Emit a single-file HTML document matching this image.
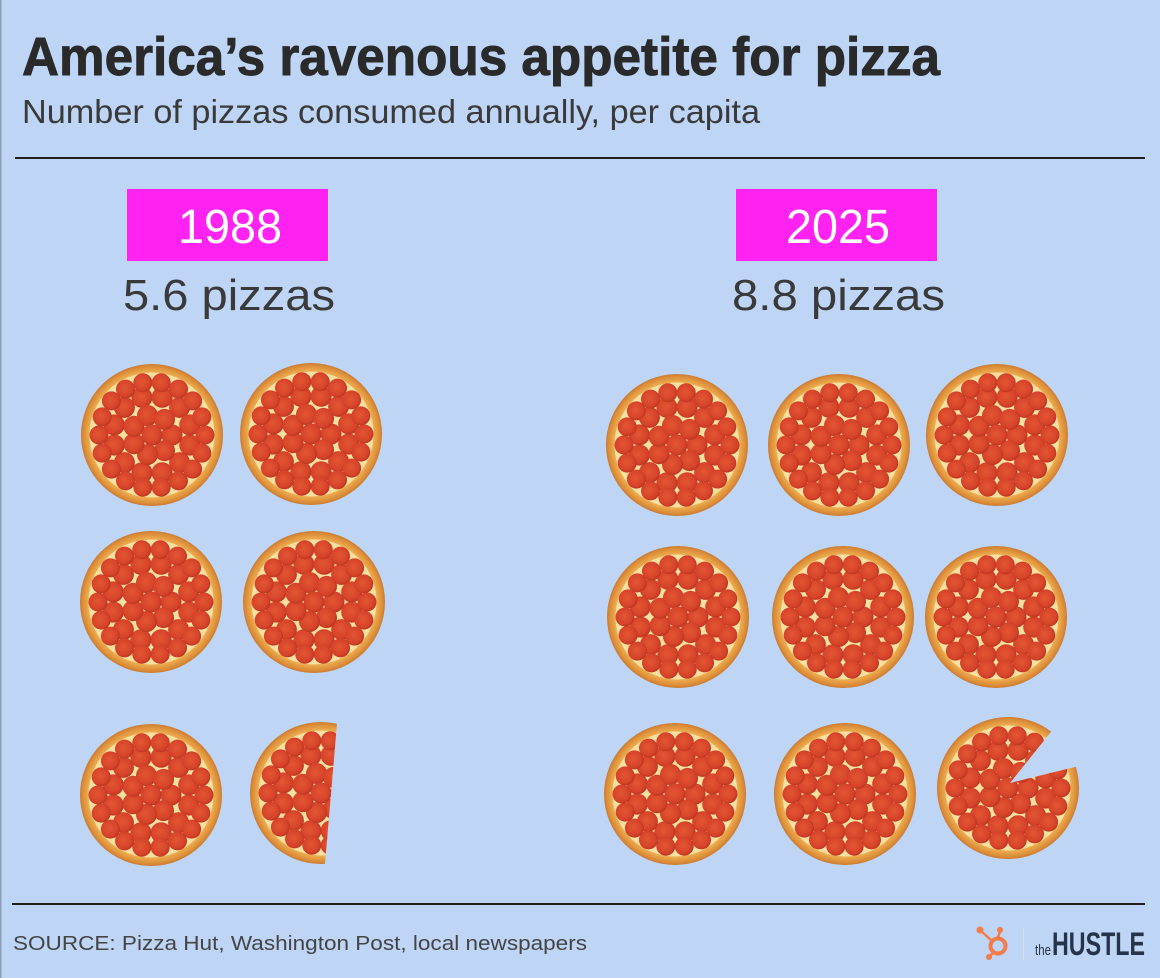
<!DOCTYPE html>
<html><head><meta charset="utf-8"><style>
html,body{margin:0;padding:0;background:#bed5f6;}
svg{display:block;}
</style></head><body>
<svg width="1160" height="978" viewBox="0 0 1160 978" xmlns="http://www.w3.org/2000/svg">
<defs>
  <radialGradient id="crust" cx="0" cy="0" r="71" gradientUnits="userSpaceOnUse">
    <stop offset="0.84" stop-color="#f4c566"/>
    <stop offset="0.90" stop-color="#eaa64a"/>
    <stop offset="0.97" stop-color="#da8a36"/>
    <stop offset="1" stop-color="#c97a34"/>
  </radialGradient>
  <radialGradient id="pep" cx="0.45" cy="0.45" r="0.6">
    <stop offset="0" stop-color="#e35634"/>
    <stop offset="0.7" stop-color="#d6432a"/>
    <stop offset="1" stop-color="#b5321d"/>
  </radialGradient>
  <g id="pizza">
    <circle r="71" fill="url(#crust)"/>
    <circle r="62.5" fill="#f8e0a0"/>
    <g fill="url(#pep)">
      <circle cx="37.7" cy="10.1" r="10.5"/><circle cx="27.6" cy="27.6" r="10.5"/><circle cx="10.1" cy="37.7" r="10.5"/>
      <circle cx="-10.1" cy="37.7" r="10.5"/><circle cx="-27.6" cy="27.6" r="10.5"/><circle cx="-37.7" cy="10.1" r="10.5"/>
      <circle cx="-37.7" cy="-10.1" r="10.5"/><circle cx="-27.6" cy="-27.6" r="10.5"/><circle cx="-10.1" cy="-37.7" r="10.5"/>
      <circle cx="10.1" cy="-37.7" r="10.5"/><circle cx="27.6" cy="-27.6" r="10.5"/><circle cx="37.7" cy="-10.1" r="10.5"/>
      <circle cx="53" cy="0" r="9.5"/><circle cx="49.8" cy="18.1" r="9.5"/><circle cx="40.6" cy="34.1" r="9.5"/>
      <circle cx="26.5" cy="45.9" r="9.5"/><circle cx="9.2" cy="52.2" r="9.5"/><circle cx="-9.2" cy="52.2" r="9.5"/>
      <circle cx="-26.5" cy="45.9" r="9.5"/><circle cx="-40.6" cy="34.1" r="9.5"/><circle cx="-49.8" cy="18.1" r="9.5"/>
      <circle cx="-53" cy="0" r="9.5"/><circle cx="-49.8" cy="-18.1" r="9.5"/><circle cx="-40.6" cy="-34.1" r="9.5"/>
      <circle cx="-26.5" cy="-45.9" r="9.5"/><circle cx="-9.2" cy="-52.2" r="9.5"/><circle cx="9.2" cy="-52.2" r="9.5"/>
      <circle cx="26.5" cy="-45.9" r="9.5"/><circle cx="40.6" cy="-34.1" r="9.5"/><circle cx="49.8" cy="-18.1" r="9.5"/>
      <circle cx="20" cy="0" r="10.5"/><circle cx="12.5" cy="15.6" r="10.5"/><circle cx="-4.5" cy="19.5" r="10.5"/>
      <circle cx="-18" cy="8.7" r="10.5"/><circle cx="-18" cy="-8.7" r="10.5"/><circle cx="-4.5" cy="-19.5" r="10.5"/>
      <circle cx="12.5" cy="-15.6" r="10.5"/>
      <circle cx="0" cy="0" r="10.5"/>
    </g>
  </g>
  <clipPath id="halfclip"><polygon points="240,700 339,700 323.6,880 240,880"/></clipPath>
  <clipPath id="wedgeclip"><polygon points="1010,783 1140,751 1140,900 900,900 900,680 1090,683"/></clipPath>
</defs>

<rect x="0" y="0" width="1160" height="978" fill="#bed5f6"/>
<rect x="0" y="0" width="1.5" height="978" fill="#8c9fb8"/>

<text x="22" y="75" font-family="Liberation Sans, sans-serif" font-weight="bold" font-size="54" fill="#2a2a2a" stroke="#2a2a2a" stroke-width="0.9" textLength="918" lengthAdjust="spacingAndGlyphs">America’s ravenous appetite for pizza</text>
<text x="22" y="123" font-family="Liberation Sans, sans-serif" font-size="33" fill="#3a3a3a" textLength="738" lengthAdjust="spacingAndGlyphs">Number of pizzas consumed annually, per capita</text>
<rect x="15" y="157" width="1130" height="2" fill="#1e1e1e"/>

<rect x="127" y="189" width="201" height="72" fill="#ff22f0"/>
<text x="178" y="243" font-family="Liberation Sans, sans-serif" font-size="48" fill="#ffffff" textLength="104" lengthAdjust="spacingAndGlyphs">1988</text>
<rect x="736" y="189" width="201" height="72" fill="#ff22f0"/>
<text x="786" y="243" font-family="Liberation Sans, sans-serif" font-size="48" fill="#ffffff" textLength="104" lengthAdjust="spacingAndGlyphs">2025</text>

<text x="123" y="310" font-family="Liberation Sans, sans-serif" font-size="44" fill="#3a3a3a" textLength="212" lengthAdjust="spacingAndGlyphs">5.6 pizzas</text>
<text x="732" y="310" font-family="Liberation Sans, sans-serif" font-size="44" fill="#3a3a3a" textLength="213" lengthAdjust="spacingAndGlyphs">8.8 pizzas</text>

<!-- 1988 pizzas -->
<use href="#pizza" x="152" y="435"/>
<use href="#pizza" x="311" y="434"/>
<use href="#pizza" x="151" y="602"/>
<use href="#pizza" x="314" y="602"/>
<use href="#pizza" x="151" y="795"/>
<g clip-path="url(#halfclip)"><use href="#pizza" x="321" y="793"/></g>

<!-- 2025 pizzas -->
<use href="#pizza" x="677" y="445"/>
<use href="#pizza" x="839" y="445"/>
<use href="#pizza" x="997" y="435"/>
<use href="#pizza" x="678" y="617"/>
<use href="#pizza" x="843" y="617"/>
<use href="#pizza" x="996" y="617"/>
<use href="#pizza" x="675" y="794"/>
<use href="#pizza" x="845" y="794"/>
<g clip-path="url(#wedgeclip)"><use href="#pizza" x="1008" y="788"/></g>

<rect x="12" y="903" width="1133" height="2" fill="#1e1e1e"/>
<text x="13" y="950" font-family="Liberation Sans, sans-serif" font-size="20" fill="#444444" textLength="574" lengthAdjust="spacingAndGlyphs">SOURCE: Pizza Hut, Washington Post, local newspapers</text>

<!-- HubSpot sprocket -->
<g stroke="#f57b48" fill="none">
  <circle cx="998" cy="946" r="7.5" stroke-width="4"/>
  <line x1="998" y1="938" x2="1000" y2="931" stroke-width="2.5"/>
  <line x1="992" y1="941" x2="981" y2="931" stroke-width="2.5"/>
  <line x1="994" y1="952" x2="989" y2="957" stroke-width="2.5"/>
</g>
<g fill="#f57b48">
  <circle cx="1000" cy="930" r="3"/>
  <circle cx="980" cy="930" r="3.5"/>
  <circle cx="989" cy="957" r="3"/>
</g>
<rect x="1023" y="928" width="1" height="32" fill="#d8dde6"/>
<text x="1035" y="955" font-family="Liberation Sans, sans-serif" font-size="15" fill="#253448" textLength="16" lengthAdjust="spacingAndGlyphs">the</text>
<text x="1052" y="955" font-family="Liberation Sans, sans-serif" font-weight="bold" font-size="32" fill="#253448" textLength="93" lengthAdjust="spacingAndGlyphs">HUSTLE</text>
</svg>
</body></html>
